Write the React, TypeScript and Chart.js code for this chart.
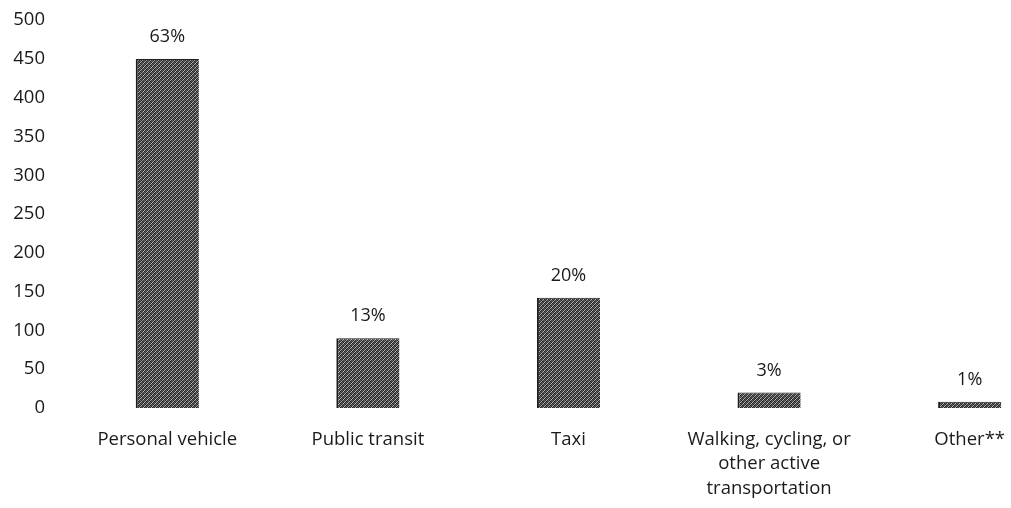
import React, { useEffect, useRef } from "react";
import { Chart, registerables } from "chart.js";

Chart.register(...registerables);

const categories: (string | string[])[] = [
  "Personal vehicle",
  "Public transit",
  "Taxi",
  ["Walking, cycling, or", "other active", "transportation"],
  "Other**",
];
const values = [450, 90, 142, 20, 8];
const percentLabels = ["63%", "13%", "20%", "3%", "1%"];
const yMin = 0;
const yMax = 500;
const yStep = 50;

const FONT = "'Open Sans', Lato, sans-serif";

function makePattern(): CanvasPattern | string {
  const c = document.createElement("canvas");
  c.width = 4;
  c.height = 4;
  const ctx = c.getContext("2d");
  if (!ctx) return "#4a4a4a";
  const tile = [
    [30, 90, 50, 190],
    [100, 40, 160, 60],
    [60, 170, 30, 80],
    [180, 50, 90, 40],
  ];
  for (let y = 0; y < 4; y++) {
    for (let x = 0; x < 4; x++) {
      const v = tile[y][x];
      ctx.fillStyle = `rgb(${v},${v},${v})`;
      ctx.fillRect(x, y, 1, 1);
    }
  }
  const p = ctx.createPattern(c, "repeat");
  return p || "#4a4a4a";
}

const labelPlugin = {
  id: "pctLabels",
  afterDatasetsDraw(chart: any) {
    const ctx = chart.ctx;
    const meta = chart.getDatasetMeta(0);
    ctx.save();
    ctx.fillStyle = "#1a1a1a";
    ctx.font = `18px ${FONT}`;
    ctx.textAlign = "center";
    ctx.textBaseline = "middle";
    meta.data.forEach((bar: any, i: number) => {
      ctx.fillText(percentLabels[i], bar.x, bar.y - 22);
    });
    ctx.restore();
  },
};

export default function App() {
  const ref = useRef<HTMLCanvasElement>(null);
  useEffect(() => {
    if (!ref.current) return;
    const chart = new Chart(ref.current, {
      type: "bar",
      data: {
        labels: categories,
        datasets: [
          {
            data: values,
            backgroundColor: makePattern() as any,
            borderColor: "#1e1e1e",
            borderWidth: { left: 2, right: 0, top: 1, bottom: 0 } as any,
            categoryPercentage: 1,
            barPercentage: 0.315,
          },
        ],
      },
      options: {
        responsive: false,
        animation: false,
        layout: { padding: { top: 6, left: 0, right: 0, bottom: 0 } },
        plugins: {
          legend: { display: false },
          tooltip: { enabled: false },
          title: { display: false },
        },
        scales: {
          x: {
            grid: { display: false, drawTicks: false, tickLength: 0 },
            border: { display: false },
            ticks: {
              color: "#1a1a1a",
              font: { family: FONT, size: 18.5, lineHeight: 1.33 },
              padding: 19,
              maxRotation: 0,
              autoSkip: false,
            },
            afterFit: (s: any) => {
              s.height = 100;
            },
          },
          y: {
            min: yMin,
            max: yMax,
            grid: { display: false, drawTicks: false, tickLength: 0 },
            border: { display: false },
            ticks: {
              stepSize: yStep,
              color: "#1a1a1a",
              font: { family: FONT, size: 18.5 },
              padding: 22,
            },
            afterFit: (s: any) => {
              s.width = 67;
            },
          },
        },
      },
      plugins: [labelPlugin],
    });
    return () => chart.destroy();
  }, []);
  return (
    <div
      style={{
        position: "fixed",
        left: 0,
        top: 0,
        width: 1011,
        height: 508,
        overflow: "hidden",
        background: "#fff",
      }}
    >
      <canvas
        ref={ref}
        width={1070}
        height={521}
        style={{ display: "block", position: "absolute", left: 0, top: -13 }}
      />
    </div>
  );
}
